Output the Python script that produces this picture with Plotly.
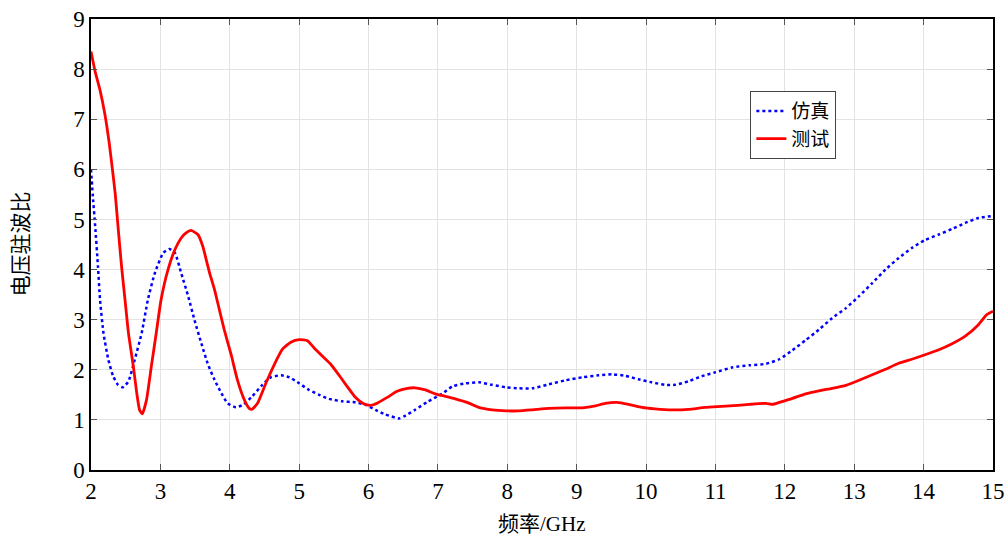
import plotly.graph_objects as go

# Simulation (仿真) data
sim_x = [2.0, 2.03, 2.06, 2.10, 2.13, 2.18, 2.25, 2.32, 2.39, 2.46, 2.54, 2.63, 2.73, 2.82, 2.92,
         3.04, 3.13, 3.21, 3.30, 3.40, 3.49, 3.59, 3.68, 3.78, 3.88, 3.97, 4.09, 4.19, 4.31,
         4.47, 4.59, 4.74, 4.86, 5.0, 5.14, 5.29, 5.43, 5.62, 5.81, 5.96, 6.10, 6.24, 6.44,
         6.51, 6.67, 6.86, 7.06, 7.21, 7.40, 7.59, 7.78, 7.98, 8.17, 8.36, 8.60, 8.84, 9.08,
         9.32, 9.51, 9.70, 9.89, 10.08, 10.27, 10.42, 10.61, 10.80, 11.0, 11.25, 11.49, 11.73,
         11.92, 12.11, 12.30, 12.49, 12.68, 12.88, 13.07, 13.26, 13.45, 13.64, 13.83, 14.02,
         14.22, 14.41, 14.60, 14.79, 15.0]
sim_y = [6.0, 5.4, 4.87, 4.07, 3.4, 2.73, 2.2, 1.87, 1.7, 1.65, 1.77, 2.2, 2.73, 3.4, 3.93,
         4.33, 4.41, 4.33, 3.93, 3.47, 3.0, 2.53, 2.13, 1.8, 1.53, 1.33, 1.25, 1.3, 1.45,
         1.7, 1.85, 1.89, 1.85, 1.73, 1.6, 1.5, 1.42, 1.37, 1.35, 1.3, 1.2, 1.11, 1.03,
         1.07, 1.2, 1.37, 1.52, 1.67, 1.73, 1.75, 1.7, 1.65, 1.63, 1.63, 1.71, 1.79, 1.85,
         1.89, 1.91, 1.88, 1.81, 1.75, 1.7, 1.7, 1.77, 1.87, 1.95, 2.05, 2.09, 2.12,
         2.21, 2.39, 2.59, 2.8, 3.03, 3.23, 3.47, 3.73, 4.0, 4.23, 4.43, 4.59,
         4.7, 4.81, 4.93, 5.03, 5.07]

# Measurement (测试) data
meas_x = [2.0, 2.06, 2.13, 2.2, 2.26, 2.30, 2.35, 2.39, 2.44, 2.49, 2.54, 2.61, 2.66, 2.70, 2.74,
          2.80, 2.87, 2.94, 3.01, 3.11, 3.21, 3.30, 3.37, 3.44, 3.54, 3.61, 3.66, 3.71, 3.78,
          3.85, 3.92, 4.02, 4.11, 4.21, 4.28, 4.32, 4.40, 4.52, 4.64, 4.76, 4.88, 5.0, 5.12,
          5.22, 5.33, 5.45, 5.57, 5.69, 5.81, 5.93, 6.03, 6.12, 6.27, 6.41, 6.56, 6.67, 6.82,
          6.96, 7.11, 7.25, 7.42, 7.59, 7.78, 7.98, 8.17, 8.36, 8.60, 8.84, 9.08, 9.27, 9.41,
          9.58, 9.75, 9.94, 10.13, 10.37, 10.61, 10.85, 11.09, 11.32, 11.49, 11.73, 11.82,
          11.92, 12.11, 12.30, 12.49, 12.68, 12.88, 13.07, 13.26, 13.45, 13.64, 13.83, 14.02,
          14.22, 14.41, 14.60, 14.79, 14.91, 15.0]
meas_y = [8.35, 7.95, 7.58, 7.1, 6.55, 6.1, 5.5, 4.85, 4.07, 3.4, 2.73, 2.07, 1.53, 1.2, 1.12,
          1.4, 2.07, 2.73, 3.4, 4.0, 4.4, 4.63, 4.73, 4.78, 4.7, 4.47, 4.2, 3.93, 3.6,
          3.2, 2.8, 2.3, 1.8, 1.4, 1.23, 1.21, 1.33, 1.73, 2.1, 2.41, 2.55, 2.6, 2.58,
          2.43, 2.28, 2.12, 1.9, 1.67, 1.45, 1.32, 1.29, 1.33, 1.45, 1.57, 1.63, 1.64, 1.6,
          1.52, 1.47, 1.42, 1.35, 1.25, 1.2, 1.18, 1.18, 1.2, 1.23, 1.24, 1.24, 1.28, 1.33,
          1.35, 1.31, 1.25, 1.22, 1.2, 1.21, 1.25, 1.27, 1.29, 1.31, 1.33, 1.31,
          1.35, 1.43, 1.52, 1.58, 1.63, 1.69, 1.79, 1.9, 2.01, 2.13, 2.21, 2.3,
          2.4, 2.52, 2.67, 2.9, 3.1, 3.17]

x_ticks = list(range(2, 16))
y_ticks = list(range(0, 10))

fig = go.Figure()
fig.add_trace(go.Scatter(x=sim_x, y=sim_y, mode="lines", name="仿真",
                         line=dict(color="#0000ff", width=2.5, dash="dot", shape="spline", smoothing=0.5)))
fig.add_trace(go.Scatter(x=meas_x, y=meas_y, mode="lines", name="测试",
                         line=dict(color="#ff0000", width=2.8, shape="spline", smoothing=0.5)))

axis_common = dict(
    showline=True, linecolor="#000000", linewidth=1.5, mirror="ticks",
    ticks="inside", ticklen=6, tickcolor="#555555", tickwidth=1,
    showgrid=True, gridcolor="#e3e3e3", gridwidth=1, zeroline=False,
    automargin=False,
    tickfont=dict(family="Liberation Serif", size=23, color="#000000"),
)

title_font = dict(family="Liberation Serif, Noto Sans CJK SC", size=21, color="#000000")

fig.update_layout(
    width=1005, height=543,
    margin=dict(l=91, r=12, t=19, b=73),
    paper_bgcolor="white", plot_bgcolor="white",
    showlegend=True,
    legend=dict(x=0.731, y=0.84, xanchor="left", yanchor="top",
                bordercolor="#444444", borderwidth=1, bgcolor="white",
                font=dict(family="Noto Sans CJK SC", size=19, color="#000000"),
                tracegroupgap=0, itemwidth=30),
    xaxis=dict(range=[2, 15], tickvals=x_ticks, **axis_common),
    yaxis=dict(range=[0, 9], tickvals=y_ticks, **axis_common),
    annotations=[
        dict(text="频率/GHz", xref="paper", yref="paper", x=0.5, y=0, yshift=-54,
             xanchor="center", yanchor="middle", showarrow=False, font=title_font),
        dict(text="电压驻波比", xref="paper", yref="paper", x=0, y=0.5, xshift=-71,
             xanchor="center", yanchor="middle", textangle=-90, showarrow=False, font=title_font),
    ],
)

fig.write_html("out.html")
